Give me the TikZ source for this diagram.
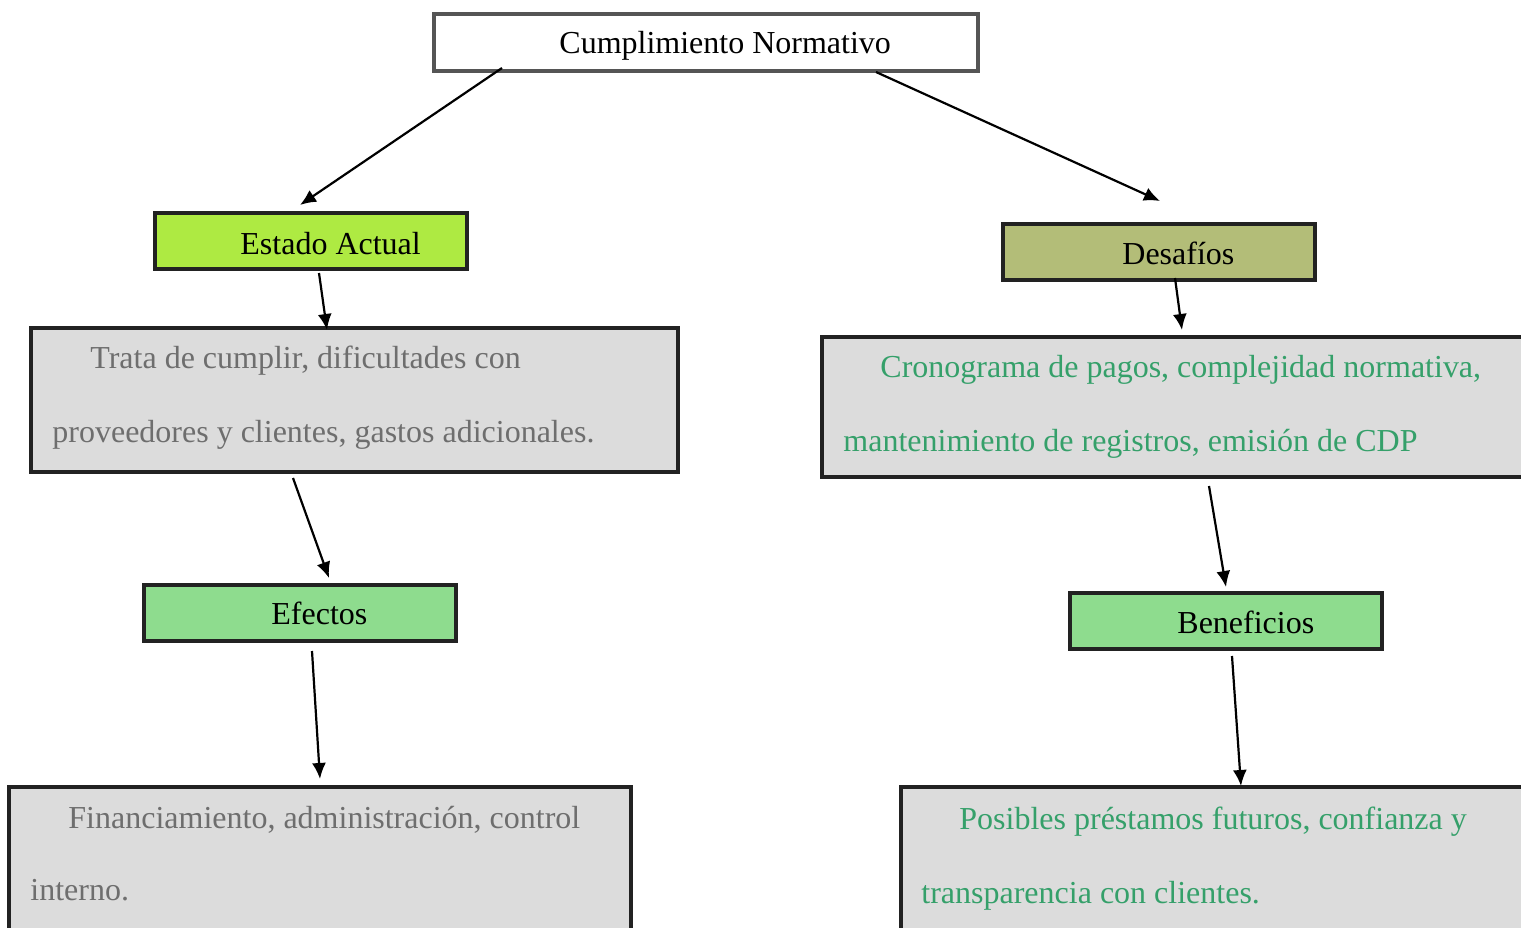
\documentclass[tikz,border=0pt]{standalone}
\usepackage{fontspec}
\setmainfont{Liberation Serif}
\usetikzlibrary{arrows.meta}
\definecolor{bordergray}{HTML}{555555}
\definecolor{borderdark}{HTML}{222222}
\definecolor{yellowgreen}{HTML}{AEEA42}
\definecolor{olivefill}{HTML}{B3BD78}
\definecolor{lightgreen}{HTML}{8EDC8E}
\definecolor{panelgray}{HTML}{DCDCDC}
\definecolor{textgray}{HTML}{6E6E6E}
\definecolor{textgreen}{HTML}{35A06A}
\tikzset{
  box/.style={draw=borderdark, line width=2.4pt, rectangle, inner sep=0pt},
  topbox/.style={box, draw=bordergray, fill=white, minimum width=272pt, minimum height=28.5pt},
  labelbox/.style={box, minimum width=156pt, minimum height=28pt},
  panel/.style={box, fill=panelgray},
  lbl/.style={anchor=base west, inner sep=0pt, font=\fontsize{16}{19}\selectfont, text=black},
  graytxt/.style={lbl, text=textgray},
  greentxt/.style={lbl, text=textgreen},
  conn/.style={line width=1.1pt, -{Latex[length=8pt,width=7pt]}}
}
\begin{document}
\begin{tikzpicture}[x=0.5pt,y=-0.5pt]
\useasboundingbox (0,0) rectangle (1521,927);
\clip (0,0) rectangle (1521,927);
\fill[white] (0,0) rectangle (1521,927);
% boxes
\node[topbox] (top) at (706,42.5) {};
\node[labelbox, fill=yellowgreen] (estado) at (311,241) {};
\node[labelbox, fill=olivefill] (desafios) at (1159,252) {};
\node[panel, minimum width=323.5pt, minimum height=72pt] (trata) at (354.5,400) {};
\node[panel, minimum width=359pt, minimum height=70pt] (crono) at (1181,407) {};
\node[labelbox, fill=lightgreen] (efectos) at (300,613) {};
\node[labelbox, fill=lightgreen] (beneficios) at (1226,621) {};
\node[panel, minimum width=311pt, minimum height=74pt] (financ) at (320,861) {};
\node[panel, minimum width=330pt, minimum height=74pt] (posibles) at (1231,861) {};
% texts
\node[lbl] (tTop) at (559,53) {Cumplimiento Normativo};
\node[lbl] (tEstado) at (240,254) {Estado Actual};
\node[lbl] (tDesafios) at (1122,264) {Desafíos};
\node[lbl] (tEfectos) at (271,624) {Efectos};
\node[lbl] (tBenef) at (1177,633) {Beneficios};
\node[graytxt] (tTrata1) at (90,368) {Trata de cumplir, dificultades con};
\node[graytxt] (tTrata2) at (52,442) {proveedores y clientes, gastos adicionales.};
\node[greentxt] (tCrono1) at (880,377) {Cronograma de pagos, complejidad normativa,};
\node[greentxt] (tCrono2) at (843,451) {mantenimiento de registros, emisión de CDP};
\node[graytxt] (tFin1) at (68,828) {Financiamiento, administración, control};
\node[graytxt] (tFin2) at (30,900) {interno.};
\node[greentxt] (tPos1) at (959,829) {Posibles préstamos futuros, confianza y};
\node[greentxt] (tPos2) at (921,903) {transparencia con clientes.};
% connector ends
\coordinate (a1s) at (502,68);   \coordinate (a1e) at (300,205);
\coordinate (a2s) at (876,72);   \coordinate (a2e) at (1160,201);
\coordinate (a3s) at (319,273);  \coordinate (a3e) at (327,330);
\coordinate (a4s) at (1175,278); \coordinate (a4e) at (1182,330);
\coordinate (a5s) at (293,478);  \coordinate (a5e) at (329,578);
\coordinate (a6s) at (1209,486); \coordinate (a6e) at (1226,587);
\coordinate (a7s) at (312,651);  \coordinate (a7e) at (320,779);
\coordinate (a8s) at (1232,656); \coordinate (a8e) at (1241,786);
\draw[conn] (a1s) -- (a1e);
\draw[conn] (a2s) -- (a2e);
\draw[conn] (a3s) -- (a3e);
\draw[conn] (a4s) -- (a4e);
\draw[conn] (a5s) -- (a5e);
\draw[conn] (a6s) -- (a6e);
\draw[conn] (a7s) -- (a7e);
\draw[conn] (a8s) -- (a8e);
\end{tikzpicture}
\end{document}
